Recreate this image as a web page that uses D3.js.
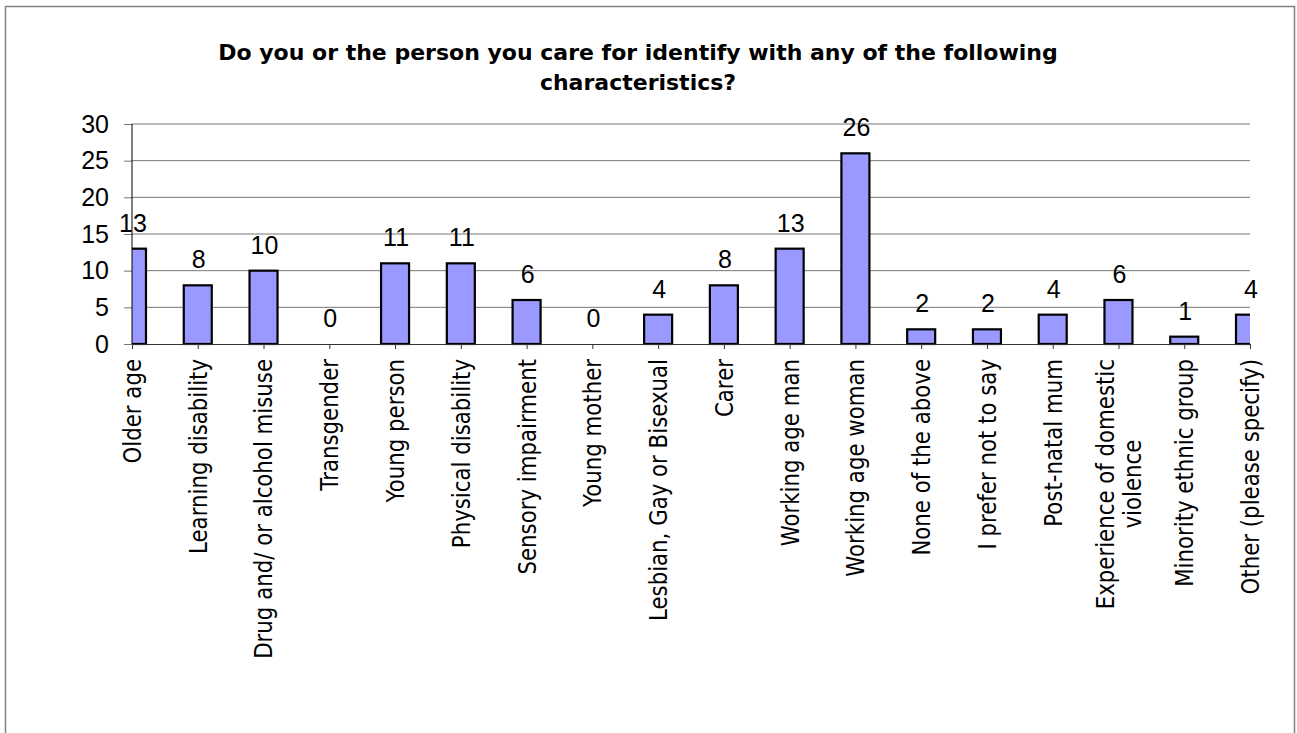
<!DOCTYPE html>
<html lang="en">
    <head>
        <meta charset="utf-8">
        <title>Characteristics bar chart</title>
        <script src="https://d3js.org/d3.v7.min.js"></script>
        <style type="text/css">
            body { margin: 0; background: #fff; }
        </style>
    </head>
    <body>
        <script type="text/javascript">

            const svgW = 1297;
            const svgH = 733;

            // data
            const categories = [
                "Older age", "Learning disability", "Drug and/ or alcohol misuse", "Transgender",
                "Young person", "Physical disability", "Sensory impairment", "Young mother",
                "Lesbian, Gay or Bisexual", "Carer", "Working age man", "Working age woman",
                "None of the above", "I prefer not to say", "Post-natal mum",
                "Experience of domestic\nviolence", "Minority ethnic group", "Other (please specify)"
            ];
            const counts = [13, 8, 10, 0, 11, 11, 6, 0, 4, 8, 13, 26, 2, 2, 4, 6, 1, 4];
            const yTicks = [0, 5, 10, 15, 20, 25, 30];
            const titleLines = [
                "Do you or the person you care for identify with any of the following",
                "characteristics?"
            ];

            const plot = { left: 132, right: 1250, top: 124, bottom: 344 };
            const barW = 28;

            const xScale = d3.scalePoint()
                             .domain(categories)
                             .range([plot.left, plot.right]);

            const yScale = d3.scaleLinear()
                             .domain([0, 30])
                             .range([plot.bottom, plot.top]);

            const svg = d3.select("body")
                    .append("svg")
                    .attr("width", svgW)
                    .attr("height", svgH);

            // outer frame
            svg.append("rect")
                .attr("x", 5.5).attr("y", 6.5)
                .attr("width", 1289).attr("height", 760)
                .attr("fill", "none")
                .attr("stroke", "#808080")
                .attr("stroke-width", 1.5);

            // title
            svg.append("text")
                .attr("text-anchor", "middle")
                .attr("font-family", "DejaVu Sans")
                .attr("font-weight", "bold")
                .attr("font-size", 22)
                .selectAll("tspan")
                .data(titleLines)
                .enter()
                .append("tspan")
                .attr("x", 638)
                .attr("y", (d, i) => 60 + i * 30)
                .text(d => d);

            // gridlines + left axis
            const leftAxis = d3.axisLeft(yScale)
                             .tickValues(yTicks)
                             .tickSize(8)
                             .tickPadding(15);

            const gy = svg.append("g")
                 .attr("transform", "translate(" + plot.left + ",0)")
                 .call(leftAxis);
            gy.select(".domain").remove();
            gy.selectAll(".tick line").attr("stroke", "#777");
            gy.selectAll(".tick text")
                .attr("font-family", "Liberation Sans, Arial")
                .attr("font-size", 25)
                .attr("fill", "#000");

            svg.append("g")
                .selectAll("line")
                .data(yTicks.filter(d => d > 0))
                .enter()
                .append("line")
                .attr("x1", plot.left).attr("x2", plot.right)
                .attr("y1", d => yScale(d)).attr("y2", d => yScale(d))
                .attr("stroke", "#777")
                .attr("stroke-width", 1);

            // bars, clipped to the plot area
            svg.append("clipPath")
                .attr("id", "plotClip")
                .append("rect")
                .attr("x", plot.left).attr("y", plot.top - 10)
                .attr("width", plot.right - plot.left)
                .attr("height", plot.bottom - plot.top + 20);

            svg.append("g")
                .attr("clip-path", "url(#plotClip)")
                .selectAll("rect")
                .data(categories)
                .enter()
                .filter((d, i) => counts[i] > 0)
                .append("rect")
                .attr("x", d => xScale(d) - barW / 2)
                .attr("y", d => yScale(counts[categories.indexOf(d)]))
                .attr("width", barW)
                .attr("height", d => plot.bottom - yScale(counts[categories.indexOf(d)]))
                .attr("fill", "#9999FF")
                .attr("stroke", "#000")
                .attr("stroke-width", 2.2);

            // axis lines
            svg.append("line")
                .attr("x1", plot.left).attr("x2", plot.left)
                .attr("y1", plot.top).attr("y2", plot.bottom)
                .attr("stroke", "#000");

            const bottomAxis = d3.axisBottom(xScale)
                                .tickSize(5)
                                .tickFormat("");

            const gx = svg.append("g")
                .attr("transform", "translate(0," + plot.bottom + ")")
                .call(bottomAxis);
            gx.select(".domain").attr("stroke", "#333");
            gx.selectAll(".tick line").attr("stroke", "#333");

            // value labels
            svg.append("g")
                .selectAll("text")
                .data(categories)
                .enter()
                .append("text")
                .attr("x", d => xScale(d) + 1)
                .attr("y", (d, i) => yScale(counts[i]) - 17)
                .attr("text-anchor", "middle")
                .attr("font-family", "Liberation Sans, Arial")
                .attr("font-size", 25)
                .text((d, i) => counts[i]);

            // category labels, rotated (glyphs a bit wider, like the source)
            const labelTop = plot.bottom + 15;
            const lineH = 23;
            const catLabels = svg.append("g")
                .attr("font-family", "DejaVu Sans")
                .attr("font-size", 21.3);

            categories.forEach(function (c) {
                const lines = c.split("\n");
                const cx = xScale(c);
                const t = catLabels.append("text")
                    .attr("transform", "translate(" + cx + "," + labelTop + ") rotate(-90) scale(1,1.2)");
                const spans = t.selectAll("tspan")
                    .data(lines)
                    .enter()
                    .append("tspan")
                    .attr("y", (d, i) => (i - (lines.length - 1) / 2) * lineH)
                    .attr("dy", "0.35em")
                    .text(d => d);
                if (lines.length === 1) {
                    spans.attr("x", 0).attr("text-anchor", "end");
                } else {
                    let maxLen = 0;
                    spans.each(function () { maxLen = Math.max(maxLen, this.getComputedTextLength()); });
                    spans.attr("x", -maxLen / 2).attr("text-anchor", "middle");
                }
            });

        </script>
    </body>
</html>
